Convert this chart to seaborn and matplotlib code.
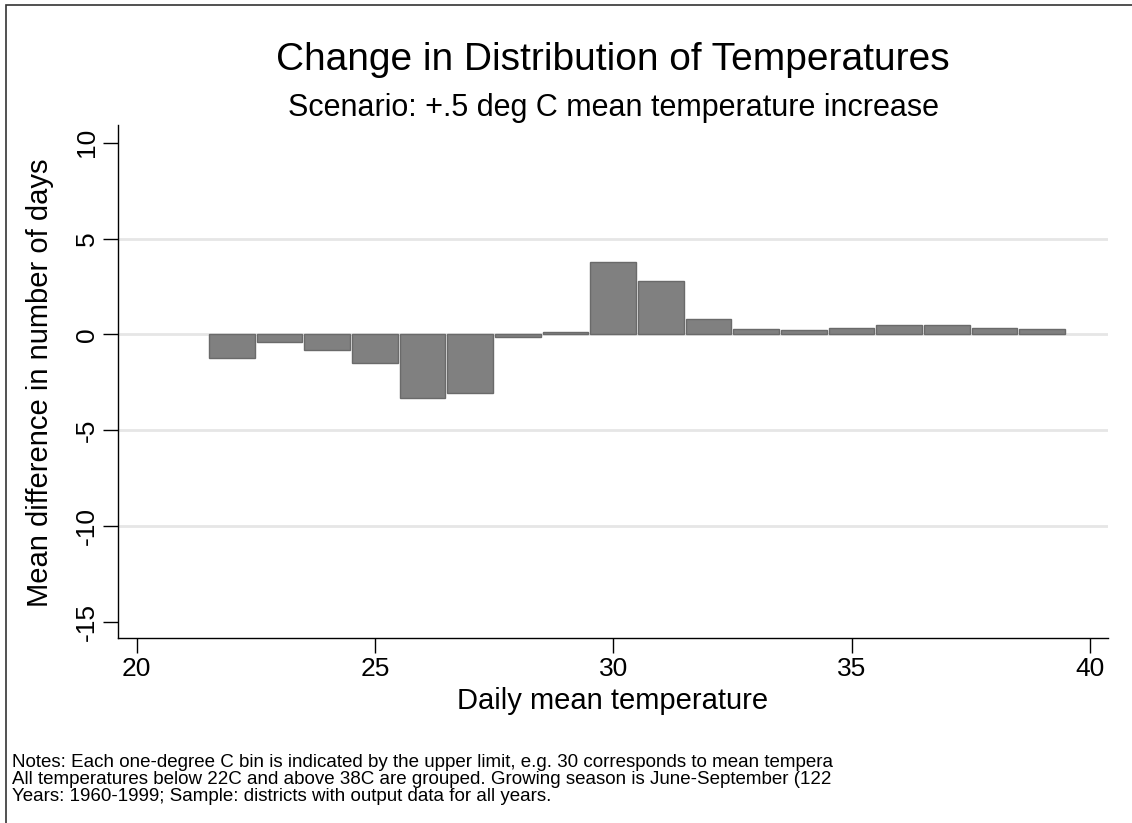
import matplotlib
matplotlib.use("Agg")
import matplotlib.pyplot as plt
import seaborn as sns
import pandas as pd
from matplotlib.patches import Rectangle

# ---- data ----
temps = list(range(22, 40))
diffs = [-1.22, -0.40, -0.84, -1.52, -3.31, -3.07, -0.14, 0.12, 3.77, 2.80,
         0.80, 0.30, 0.24, 0.33, 0.47, 0.47, 0.33, 0.30]
x_ticks = [20, 25, 30, 35, 40]
y_ticks = [-15, -10, -5, 0, 5, 10]
grid_levels = [-10, -5, 0, 5]

title = "Change in Distribution of Temperatures"
subtitle = "Scenario: +.5 deg C mean temperature increase"
xlabel = "Daily mean temperature"
ylabel = "Mean difference in number of days"
notes = ["Notes: Each one-degree C bin is indicated by the upper limit, e.g. 30 corresponds to mean tempera",
         "All temperatures below 22C and above 38C are grouped. Growing season is June-September (122",
         "Years: 1960-1999; Sample: districts with output data for all years."]

sns.set_theme(style="white")
plt.rcParams['font.family'] = ['Liberation Sans', 'DejaVu Sans']

W, H = 1132, 823
fig = plt.figure(figsize=(W / 100, H / 100), dpi=100)
fig.patch.set_facecolor("white")

# outer frame (extends beyond the right/bottom edge as in the reference)
fig.add_artist(Rectangle((6 / W, -0.1), 2, 1 - 5 / H + 0.1, transform=fig.transFigure,
                         fill=False, edgecolor="#333333", linewidth=1.2))

ax = fig.add_axes([118 / W, 1 - 638 / H, (1108 - 118) / W, (638 - 125) / H])
df = pd.DataFrame({"temp": temps, "diff": diffs})

for g in grid_levels:
    ax.axhline(g, color="#e6e6e6", linewidth=2, zorder=0)

sns.barplot(data=df, x="temp", y="diff", native_scale=True, width=0.96,
            color="#808080", saturation=1, edgecolor="#6a6a6a", linewidth=1,
            ax=ax, zorder=2)

ax.set_xlim(19.61, 40.38)
ax.set_ylim(-15.86, 10.93)
ax.set_xticks(x_ticks)
ax.set_yticks(y_ticks)
ax.set_xticklabels([str(v) for v in x_ticks], fontsize=19)
ax.set_yticklabels([str(v) for v in y_ticks], fontsize=19, rotation=90, va="center")
ax.tick_params(axis="both", which="major", direction="out", length=11, width=1,
               color="black", labelcolor="black", bottom=True, left=True,
               top=False, right=False)
ax.tick_params(axis="x", pad=3)
ax.tick_params(axis="y", pad=3)
ax.set_xlabel("")
ax.set_ylabel("")
for s in ["top", "right"]:
    ax.spines[s].set_visible(False)
for s in ["left", "bottom"]:
    ax.spines[s].set_color("black")
    ax.spines[s].set_linewidth(1)
ax.grid(False)

fig.text(613 / W, 1 - 60 / H, title, ha="center", va="center", fontsize=28, color="black")
fig.text(613 / W, 1 - 108 / H, subtitle, ha="center", va="center", fontsize=22, color="black")
fig.text(613 / W, 1 - 701 / H, xlabel, ha="center", va="center", fontsize=21, color="black")
fig.text(40 / W, 1 - 383 / H, ylabel, ha="center", va="center", rotation=90,
         fontsize=21, color="black")
fig.text(12 / W, 1 - 754 / H, "\n".join(notes), ha="left", va="top",
         fontsize=13.5, linespacing=1.0, color="black")

fig.savefig("out.png", dpi=100, facecolor="white")
